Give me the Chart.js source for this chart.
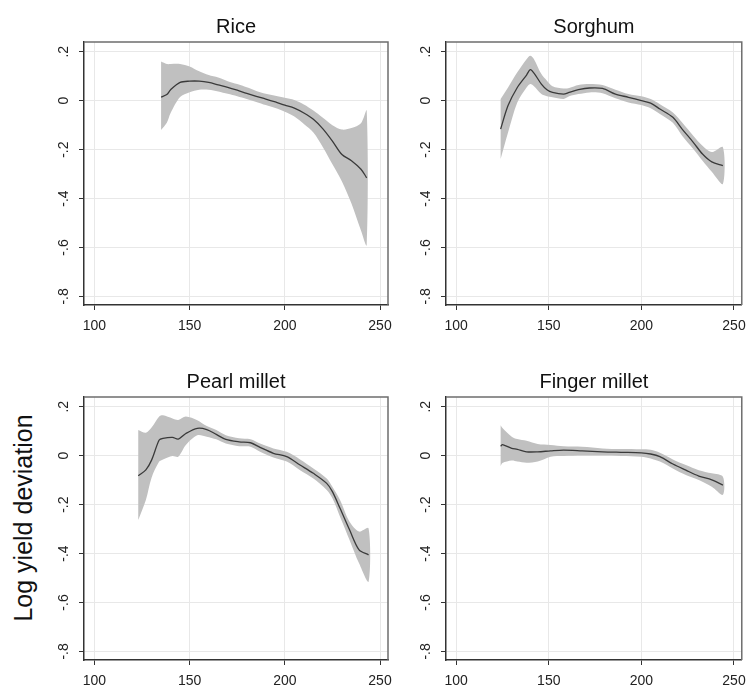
<!DOCTYPE html>
<html><head><meta charset="utf-8">
<script src="https://cdn.jsdelivr.net/npm/chart.js@4/dist/chart.umd.min.js"></script>
<style>
html,body{margin:0;padding:0;background:#fff;}
#wrap{position:relative;width:754px;height:686px;overflow:hidden;background:#fff;}
canvas{position:absolute;}
#ylab{position:absolute;left:23px;top:518px;transform:translate(-50%,-50%) rotate(-90deg);font:25px "Liberation Sans",Arial,sans-serif;color:#111;white-space:nowrap;}
</style></head><body>
<div id="wrap">
<canvas id="c0" width="360" height="340" style="left:40px;top:0px"></canvas>
<canvas id="c1" width="352" height="340" style="left:402px;top:0px"></canvas>
<canvas id="c2" width="360" height="341" style="left:40px;top:345px"></canvas>
<canvas id="c3" width="352" height="341" style="left:402px;top:345px"></canvas>
<div id="ylab">Log yield deviation</div>
</div>
<script>
// ---- data ----
const titles = ["Rice", "Sorghum", "Pearl millet", "Finger millet"];
const xTicks = [100, 150, 200, 250];
const yTicks = [-0.8, -0.6, -0.4, -0.2, 0, 0.2];

const riceX     = [135,138,140,145,150,155,160,165,170,175,180,185,190,195,200,205,210,215,220,225,230,235,240,243];
const riceMean  = [0.015,0.025,0.045,0.075,0.08,0.08,0.075,0.065,0.055,0.043,0.03,0.018,0.007,-0.005,-0.018,-0.03,-0.05,-0.076,-0.115,-0.165,-0.22,-0.245,-0.28,-0.315];
const riceUpper = [0.16,0.15,0.15,0.15,0.14,0.12,0.105,0.095,0.08,0.068,0.055,0.04,0.028,0.02,0.012,0.003,-0.015,-0.04,-0.07,-0.10,-0.118,-0.112,-0.092,-0.04];
const riceLower = [-0.12,-0.09,-0.05,0.015,0.035,0.045,0.045,0.038,0.028,0.018,0.007,-0.005,-0.018,-0.03,-0.045,-0.065,-0.095,-0.13,-0.19,-0.26,-0.33,-0.42,-0.53,-0.59];

const sorgX     = [124,128,133,138,140,142,146,149,152,158,161,166,172,179,186,193,200,205,210,217,222,228,233,238,244];
const sorgMean  = [-0.116,-0.02,0.054,0.105,0.127,0.113,0.068,0.045,0.034,0.027,0.034,0.045,0.052,0.05,0.027,0.014,0,-0.01,-0.034,-0.068,-0.116,-0.17,-0.218,-0.25,-0.265];
const sorgUpper = [0.007,0.054,0.116,0.17,0.184,0.17,0.109,0.082,0.059,0.05,0.052,0.064,0.068,0.064,0.045,0.027,0.018,0.007,-0.014,-0.048,-0.089,-0.143,-0.184,-0.21,-0.19];
const sorgLower = [-0.238,-0.13,-0.007,0.054,0.068,0.059,0.027,0.018,0.014,0.007,0.018,0.027,0.034,0.031,0.01,-0.007,-0.018,-0.031,-0.054,-0.09,-0.143,-0.197,-0.245,-0.29,-0.34];

const pearlX     = [123,127,130,134,136,141,144,148,154,159,164,169,176,182,187,194,201,208,215,222,225,229,234,239,244];
const pearlMean  = [-0.082,-0.058,-0.018,0.064,0.071,0.075,0.068,0.091,0.112,0.107,0.087,0.067,0.057,0.053,0.034,0.01,-0.004,-0.038,-0.072,-0.113,-0.147,-0.215,-0.303,-0.385,-0.405];
const pearlUpper = [0.105,0.094,0.115,0.16,0.165,0.152,0.146,0.16,0.145,0.121,0.105,0.084,0.071,0.067,0.05,0.03,0.016,-0.015,-0.052,-0.093,-0.127,-0.181,-0.27,-0.31,-0.297];
const pearlLower = [-0.263,-0.181,-0.09,-0.024,-0.015,-0.001,-0.004,0.044,0.084,0.078,0.067,0.05,0.039,0.037,0.016,-0.007,-0.024,-0.059,-0.093,-0.14,-0.174,-0.249,-0.344,-0.44,-0.515];

const fingerX     = [124,125,130,133,138,144,151,158,168,179,189,200,205,210,217,224,231,238,244];
const fingerMean  = [0.039,0.045,0.03,0.026,0.016,0.016,0.02,0.023,0.02,0.016,0.014,0.012,0.007,-0.004,-0.034,-0.059,-0.083,-0.099,-0.12];
const fingerUpper = [0.125,0.113,0.078,0.068,0.061,0.048,0.044,0.039,0.037,0.03,0.027,0.026,0.024,0.012,-0.015,-0.038,-0.059,-0.072,-0.086];
const fingerLower = [-0.042,-0.03,-0.02,-0.024,-0.029,-0.024,-0.004,-0.001,0.001,0.001,-0.001,-0.004,-0.011,-0.024,-0.052,-0.079,-0.099,-0.127,-0.16];

// ---- drawing ----
const FONT = '"Liberation Sans", Arial, sans-serif';
const fmt = v => { if (Math.abs(v) < 1e-9) return '0'; const s = Math.abs(v).toFixed(1).replace(/^0/, ''); return (v < 0 ? '-' : '') + s; };
const pts = (xs, ys) => xs.map((x, i) => ({x: x, y: ys[i]}));
// confidence band as one closed shape: upper edge forward, lower edge back
const bandPts = (xs, up, lo) => pts(xs, up).concat(pts(xs, lo).reverse());

const framePlugin = {
  id: 'frame',
  afterDraw(chart) {
    const {ctx, chartArea: a} = chart;
    ctx.save();
    ctx.strokeStyle = '#6e6e6e';
    ctx.lineWidth = 1.5;
    ctx.beginPath();
    ctx.moveTo(a.left, a.top);
    ctx.lineTo(a.right, a.top);
    ctx.lineTo(a.right, a.bottom);
    ctx.stroke();
    ctx.restore();
  }
};

function makeChart(id, title, xs, mean, upper, lower, padRight, titleTop, xHeight) {
  return new Chart(document.getElementById(id), {
    type: 'line',
    data: {
      datasets: [
        {data: pts(xs, mean), borderWidth: 1.3, pointRadius: 0, fill: false, borderColor: '#3a3a3a', tension: 0.3, order: 0},
        {data: bandPts(xs, upper, lower), borderWidth: 0, pointRadius: 0, fill: 'shape', backgroundColor: '#c0c0c0', borderColor: 'rgba(0,0,0,0)', tension: 0.3, order: 1}
      ]
    },
    options: {
      responsive: false,
      animation: false,
      events: [],
      parsing: true,
      layout: {padding: {left: 0, right: padRight, top: 0, bottom: 0}},
      plugins: {
        legend: {display: false},
        tooltip: {enabled: false},
        title: {
          display: true, text: title, color: '#111', fullSize: false,
          font: {family: FONT, size: 20, weight: 'normal', lineHeight: '20px'},
          padding: {top: titleTop, bottom: 5}
        }
      },
      scales: {
        x: {
          type: 'linear', min: 94.5, max: 254.2,
          afterBuildTicks: s => { s.ticks = xTicks.map(v => ({value: v})); },
          afterFit: s => { s.height = xHeight; },
          grid: {color: '#e8e8e8', lineWidth: 1, tickColor: '#333', tickLength: 5},
          border: {display: true, color: '#333', width: 1.5},
          ticks: {font: {family: FONT, size: 14}, color: '#222', padding: 8, maxRotation: 0, autoSkip: false}
        },
        y: {
          min: -0.835, max: 0.24,
          afterBuildTicks: s => { s.ticks = yTicks.map(v => ({value: v})); },
          afterFit: s => { s.width = 44; },
          grid: {color: '#e8e8e8', lineWidth: 1, tickColor: '#333', tickLength: 5},
          border: {display: true, color: '#333', width: 1.5},
          ticks: {font: {family: FONT, size: 14}, color: '#222', padding: 7, minRotation: 90, maxRotation: 90, crossAlign: 'center', autoSkip: false, callback: v => fmt(v)}
        }
      }
    },
    plugins: [framePlugin]
  });
}

makeChart('c0', titles[0], riceX, riceMean, riceUpper, riceLower, 11.5, 17, 35);
makeChart('c1', titles[1], sorgX, sorgMean, sorgUpper, sorgLower, 2, 17, 35);
makeChart('c2', titles[2], pearlX, pearlMean, pearlUpper, pearlLower, 11.5, 27, 26);
makeChart('c3', titles[3], fingerX, fingerMean, fingerUpper, fingerLower, 2, 27, 26);
</script>
</body></html>
